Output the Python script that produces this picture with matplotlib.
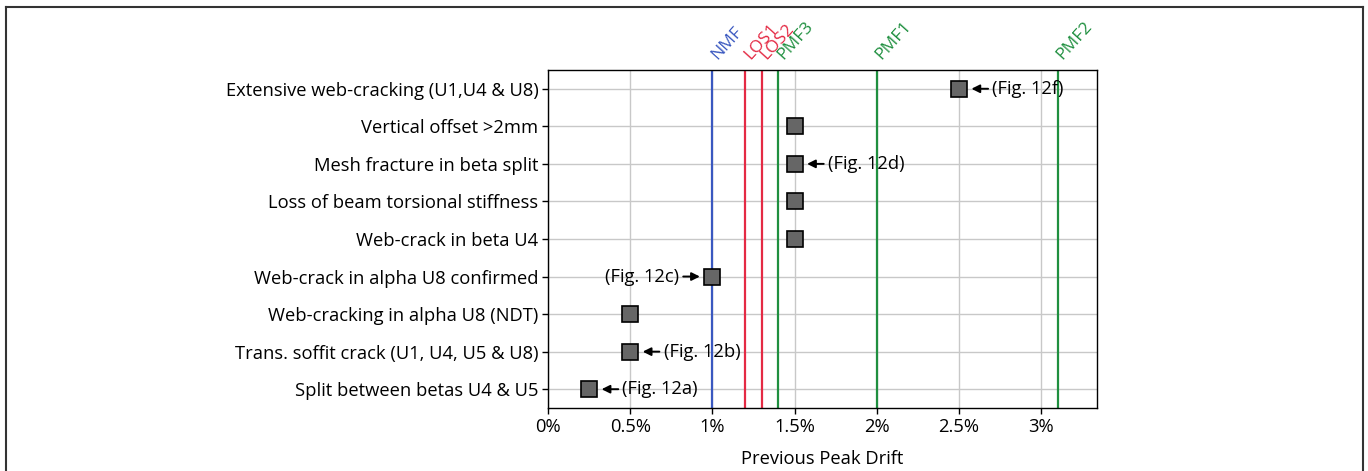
import matplotlib
matplotlib.use("Agg")
import matplotlib.pyplot as plt
from matplotlib.lines import Line2D

plt.rcParams['font.family'] = ['Open Sans', 'DejaVu Sans']

# events, top row first
events = [
    "Extensive web-cracking (U1,U4 & U8)",
    "Vertical offset >2mm",
    "Mesh fracture in beta split",
    "Loss of beam torsional stiffness",
    "Web-crack in beta U4",
    "Web-crack in alpha U8 confirmed",
    "Web-cracking in alpha U8 (NDT)",
    "Trans. soffit crack (U1, U4, U5 & U8)",
    "Split between betas U4 & U5",
]
drift = [2.5, 1.5, 1.5, 1.5, 1.5, 1.0, 0.5, 0.5, 0.25]
fig_refs = ["(Fig. 12f)", None, "(Fig. 12d)", None, None, "(Fig. 12c)", None, "(Fig. 12b)", "(Fig. 12a)"]
ref_side = ["right", None, "right", None, None, "left", None, "right", "right"]

# damage state limits
limit_names = ["NMF", "LOS1", "LOS2", "PMF3", "PMF1", "PMF2"]
limit_drift = [1.0, 1.2, 1.3, 1.4, 2.0, 3.1]
limit_colors = ["#3a58c0", "#e42a44", "#e42a44", "#1f8f3f", "#1f8f3f", "#1f8f3f"]

xticks = [0, 0.5, 1, 1.5, 2, 2.5, 3]
xticklabels = ["0%", "0.5%", "1%", "1.5%", "2%", "2.5%", "3%"]

fs = 13.2

fig = plt.figure(figsize=(13.68, 4.71), dpi=100)
ax = fig.add_axes([0.4006, 0.1338, 0.4013, 0.7176])

n = len(events)
ypos = [n - 1 - i for i in range(n)]

ax.set_xlim(0, 3.34)
ax.set_ylim(-0.5, n - 0.5)
ax.set_xticks(xticks)
ax.set_xticklabels(xticklabels, fontsize=fs)
ax.set_yticks(ypos)
ax.set_yticklabels(events, fontsize=fs)
ax.grid(True, color="#c8c8c8", lw=1.0)
ax.set_axisbelow(True)
ax.tick_params(length=4, width=1, pad=3)
for s in ax.spines.values():
    s.set_linewidth(1.0)
ax.set_xlabel("Previous Peak Drift", fontsize=fs, labelpad=10)

for x, name, c in zip(limit_drift, limit_names, limit_colors):
    ax.axvline(x, color=c, lw=1.6, zorder=2)
    ax.text(x + 0.03, n - 0.5 + 0.26, name, color=c, fontsize=12.5, rotation=48,
            rotation_mode="anchor", ha="left", va="baseline",
            transform=ax.transData, clip_on=False)

ax.plot(drift, ypos, ls="none", marker="s", ms=12, mfc="#666666", mec="black",
        mew=1.2, zorder=4)

for x, y, ref, side in zip(drift, ypos, fig_refs, ref_side):
    if ref is None:
        continue
    off = 24 if side == "right" else -24
    ax.annotate(ref, xy=(x, y), xytext=(off, 0), textcoords="offset points",
                ha="left" if side == "right" else "right", va="center", fontsize=fs,
                arrowprops=dict(arrowstyle="-|>", color="black", lw=1.4,
                                shrinkA=1, shrinkB=9, mutation_scale=12),
                zorder=5)

# outer frame
fw, fh = 1368, 471
for xs, ys in [([6 / fw, 6 / fw], [0, 1 - 7 / fh]),
               ([6 / fw, 1363 / fw], [1 - 7 / fh, 1 - 7 / fh]),
               ([1363 / fw, 1363 / fw], [1 - 7 / fh, 0])]:
    fig.add_artist(Line2D(xs, ys, color="#333333", lw=1.5, transform=fig.transFigure))

fig.savefig("out.png", dpi=100)
